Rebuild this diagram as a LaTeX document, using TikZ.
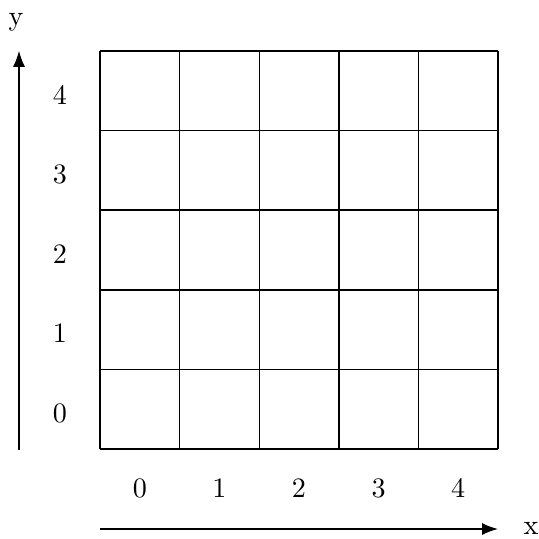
\documentclass[tikz,border=0pt]{standalone}
\usepackage{tikz}
\usetikzlibrary{arrows.meta,positioning,calc}

\begin{document}
\begin{tikzpicture}[x=1cm,y=1cm,line width=0.5pt]
  \useasboundingbox (0,0) rectangle (6.7375,6.725);
  % 格子
  \def\N{5}
  \def\dc{0.995}
  \coordinate (o) at (1.25,1.1125);
  \foreach \i in {0,...,\N}{
    \draw ($(o)+(\i*\dc,0)$) -- ($(o)+(\i*\dc,\N*\dc)$);
    \draw ($(o)+(0,\i*\dc)$) -- ($(o)+(\N*\dc,\i*\dc)$);
  }
  % 目盛りの数字
  \foreach \i in {0,...,4}{
    \pgfmathsetmacro{\xc}{1.25+(\i+0.5)*\dc}
    \pgfmathsetmacro{\yc}{1.1125+(\i+0.5)*\dc-0.05}
    \node (xl\i) at (\xc,0.625) {\i};
    \node (yl\i) at (0.75,\yc) {\i};
  }
  % 座標軸
  \coordinate (xs) at (1.25,0.1125);
  \coordinate (xe) at (6.225,0.1125);
  \coordinate (ys) at (0.2375,1.1);
  \coordinate (ye) at (0.2375,6.09);
  \draw[-{Latex[length=2mm]}] (xs) -- (xe);
  \draw[-{Latex[length=2mm]}] (ys) -- (ye);
  \node (xlab) at (6.6375,0.12) {x};
  \node (ylab) at (0.2,6.45) {y};
\end{tikzpicture}
\end{document}
